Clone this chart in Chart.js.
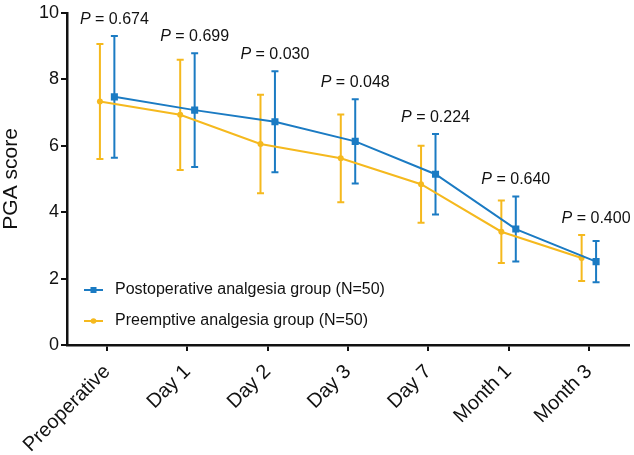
<!DOCTYPE html>
<html>
<head>
<meta charset="utf-8">
<script src="https://cdn.jsdelivr.net/npm/chart.js@4.4.1/dist/chart.umd.min.js"></script>
<style>
html,body{margin:0;padding:0;background:#fff;}
canvas{display:block;}
</style>
</head>
<body>
<canvas id="c" width="634" height="455"></canvas>
<script>
const categories = ['Preoperative', 'Day 1', 'Day 2', 'Day 3', 'Day 7', 'Month 1', 'Month 3'];
const postMean = [7.47, 7.07, 6.72, 6.13, 5.14, 3.49, 2.51];
const postSD   = [1.83, 1.71, 1.52, 1.27, 1.21, 0.98, 0.62];
const preMean  = [7.33, 6.93, 6.05, 5.62, 4.84, 3.41, 2.62];
const preSD    = [1.73, 1.66, 1.48, 1.32, 1.16, 0.94, 0.69];
const pValues  = ['0.674', '0.699', '0.030', '0.048', '0.224', '0.640', '0.400'];
const seriesLabels = ['Postoperative analgesia group (N=50)', 'Preemptive analgesia group (N=50)'];
const yTicks = [0, 2, 4, 6, 8, 10];

const BLUE = '#1b7bc3';
const YELLOW = '#f5b91e';
const FONT = "'Liberation Sans', Arial, Helvetica, sans-serif";
const NUDGE = 0.09;

const postData = postMean.map((v, i) => ({x: i + NUDGE, y: v, sd: postSD[i]}));
const preData = preMean.map((v, i) => ({x: i - NUDGE, y: v, sd: preSD[i]}));

const errorBars = {
  id: 'errorBars',
  beforeDatasetsDraw(chart) {
    const {ctx, scales: {x, y}} = chart;
    chart.data.datasets.forEach((ds) => {
      ctx.save();
      ctx.strokeStyle = ds.borderColor;
      ctx.lineWidth = 2;
      ds.data.forEach((p) => {
        const px = x.getPixelForValue(p.x);
        const yt = y.getPixelForValue(p.y + p.sd);
        const yb = y.getPixelForValue(p.y - p.sd);
        ctx.beginPath();
        ctx.moveTo(px, yt); ctx.lineTo(px, yb);
        ctx.moveTo(px - 3.5, yt); ctx.lineTo(px + 3.5, yt);
        ctx.moveTo(px - 3.5, yb); ctx.lineTo(px + 3.5, yb);
        ctx.stroke();
      });
      ctx.restore();
    });
  }
};

const pLabels = {
  id: 'pLabels',
  afterDatasetsDraw(chart) {
    const {ctx, scales: {x, y}} = chart;
    ctx.save();
    ctx.fillStyle = '#111';
    ctx.textBaseline = 'middle';
    ctx.textAlign = 'left';
    pValues.forEach((pv, i) => {
      const top = Math.max(postMean[i] + postSD[i], preMean[i] + preSD[i]);
      const cy = y.getPixelForValue(top) - 16.5;
      const cx = x.getPixelForValue(i + NUDGE);
      ctx.font = 'italic 16px ' + FONT;
      const w1 = ctx.measureText('P').width;
      ctx.font = '16px ' + FONT;
      const rest = ' = ' + pv;
      const w2 = ctx.measureText(rest).width;
      const start = cx - (w1 + w2) / 2;
      ctx.font = 'italic 16px ' + FONT;
      ctx.fillText('P', start, cy);
      ctx.font = '16px ' + FONT;
      ctx.fillText(rest, start + w1, cy);
    });
    ctx.restore();
  }
};

const customLegend = {
  id: 'customLegend',
  afterDraw(chart) {
    const {ctx} = chart;
    const rows = [290, 321];
    ctx.save();
    chart.data.datasets.forEach((ds, i) => {
      const yy = rows[i];
      ctx.strokeStyle = ds.borderColor;
      ctx.fillStyle = ds.borderColor;
      ctx.lineWidth = 2;
      ctx.beginPath();
      ctx.moveTo(84, yy); ctx.lineTo(103, yy);
      ctx.stroke();
      if (ds.pointStyle === 'rect') {
        ctx.fillRect(93.5 - 3, yy - 3, 6, 6);
      } else {
        ctx.beginPath();
        ctx.arc(93.5, yy, 2.8, 0, Math.PI * 2);
        ctx.fill();
      }
      ctx.fillStyle = '#111';
      ctx.font = '16px ' + FONT;
      ctx.textBaseline = 'middle';
      ctx.textAlign = 'left';
      ctx.fillText(ds.label, 115, yy);
    });
    ctx.restore();
  }
};

new Chart(document.getElementById('c'), {
  type: 'line',
  data: {
    datasets: [
      {
        label: seriesLabels[0],
        data: postData,
        borderColor: BLUE,
        backgroundColor: BLUE,
        borderWidth: 2,
        pointStyle: 'rect',
        pointRadius: 5,
        pointBorderWidth: 0,
        tension: 0
      },
      {
        label: seriesLabels[1],
        data: preData,
        borderColor: YELLOW,
        backgroundColor: YELLOW,
        borderWidth: 2,
        pointStyle: 'circle',
        pointRadius: 3,
        pointBorderWidth: 0,
        tension: 0
      }
    ]
  },
  options: {
    responsive: false,
    animation: false,
    devicePixelRatio: 1,
    layout: {padding: {top: 10, right: 2, left: 0, bottom: 0}},
    plugins: {
      legend: {display: false},
      tooltip: {enabled: false}
    },
    scales: {
      x: {
        type: 'linear',
        min: -0.5,
        max: 6.5,
        afterBuildTicks(scale) {
          scale.ticks = categories.map((_, i) => ({value: i}));
        },
        afterFit(scale) { scale.height = 110; },
        border: {display: true, color: '#111', width: 2.5},
        grid: {display: true, drawOnChartArea: false, drawTicks: true, tickLength: 6, color: '#111', lineWidth: 2},
        ticks: {
          autoSkip: false,
          minRotation: 45,
          maxRotation: 45,
          padding: 9,
          color: '#111',
          font: {family: FONT, size: 20},
          callback: (v) => categories[v] !== undefined ? categories[v] : ''
        }
      },
      y: {
        min: 0,
        max: 10,
        afterBuildTicks(scale) {
          scale.ticks = yTicks.map((v) => ({value: v}));
        },
        afterFit(scale) { scale.width = 67; },
        border: {display: true, color: '#111', width: 2.5},
        grid: {display: true, drawOnChartArea: false, drawTicks: true, tickLength: 6, color: '#111', lineWidth: 2},
        ticks: {
          padding: 2,
          color: '#111',
          font: {family: FONT, size: 18}
        },
        title: {
          display: true,
          text: 'PGA score',
          color: '#111',
          padding: {top: 0, bottom: 0},
          font: {family: FONT, size: 21, lineHeight: 1.1}
        }
      }
    }
  },
  plugins: [errorBars, pLabels, customLegend]
});
</script>
</body>
</html>
